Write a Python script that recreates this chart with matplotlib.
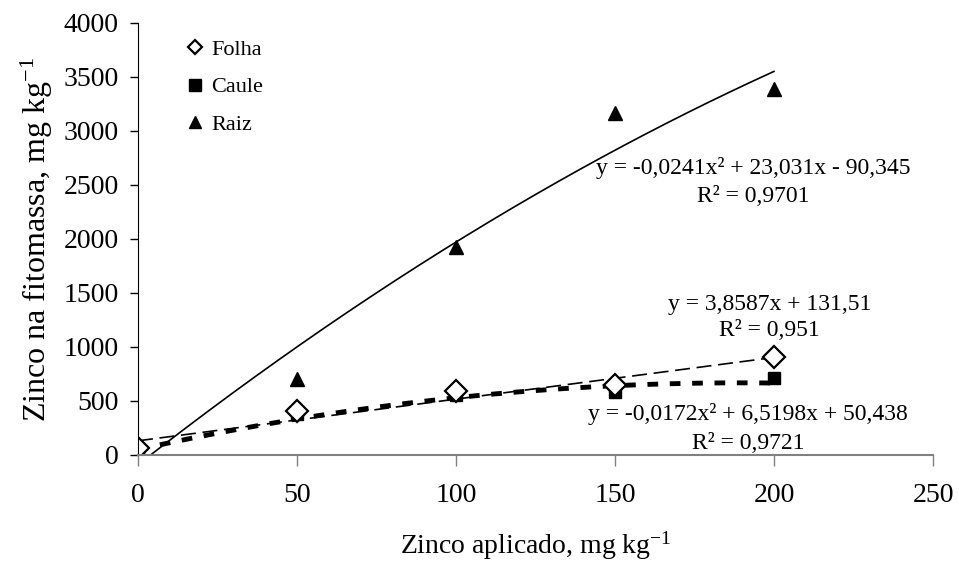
import matplotlib.pyplot as plt
import numpy as np

plt.rcParams['font.family'] = ['Liberation Serif', 'DejaVu Serif']
plt.rcParams['mathtext.fontset'] = 'custom'
plt.rcParams['mathtext.rm'] = 'Liberation Serif'
plt.rcParams['mathtext.it'] = 'Liberation Serif:italic'

# dados
doses = [0, 50, 100, 150, 200]
folha = [65, 407, 590, 648, 907]
caule = [30, 380, 555, 583, 713]
raiz = [20, 700, 1930, 3167, 3389]

# coeficientes das regressoes (a, b, c) -> a x^2 + b x + c
coef_folha = (0.0, 3.8587, 131.51)
coef_caule = (-0.0172, 6.5198, 50.438)
coef_raiz = (-0.0241, 23.031, -90.345)

fig = plt.figure(figsize=(9.59, 5.66), dpi=100)
ax = fig.add_axes([138/959, 1 - 455/566, (933-138)/959, (455-23)/566])

xx = np.linspace(0, 200, 300)
def curva(c):
    return c[0]*xx**2 + c[1]*xx + c[2]

ax.plot(xx, curva(coef_raiz), color='black', lw=1.2)
ax.plot(xx, curva(coef_folha), color='black', lw=1.2, dashes=(9, 4))
ax.plot(xx, curva(coef_caule), color='black', lw=3.5, dashes=(2.2, 2.4))

ax.plot(doses, raiz, '^', color='black', ms=10, ls='none', label='Raiz')
ax.plot(doses, caule, 's', color='black', ms=8, ls='none', label='Caule')
ax.plot(doses, folha, 'D', mfc='white', mec='black', mew=1.6, ms=11, ls='none', label='Folha')

h, l = ax.get_legend_handles_labels()
leg = ax.legend(h[::-1], l[::-1], loc='upper left', bbox_to_anchor=(0.033, 1.008), frameon=False,
                fontsize=16, labelspacing=0.75, handletextpad=0.2, handlelength=1.0)
for hd, ms in zip(leg.legend_handles, [7.5, 8, 9]):
    hd.set_markersize(ms)

ax.set_xlim(0, 250)
ax.set_ylim(0, 4000)
ax.set_xticks(range(0, 251, 50))
ax.set_yticks(range(0, 4001, 500))
ax.spines['top'].set_visible(False)
ax.spines['right'].set_visible(False)
ax.spines['bottom'].set_color('#808080')
ax.spines['bottom'].set_linewidth(1.5)
ax.tick_params(axis='x', direction='out', length=8, width=1, colors='#808080',
               labelcolor='black', labelsize=20, pad=12)
ax.tick_params(axis='y', direction='out', length=6, width=1, labelsize=20, pad=8)

ax.set_xlabel(r'Zinco aplicado, mg kg$^{\mathrm{-1}}$', fontsize=20, labelpad=16)
ax.set_ylabel(r'Zinco na fitomassa, mg kg$^{\mathrm{-1}}$', fontsize=23, labelpad=6)

fs = 17
ax.text(193.4, 2657, 'y = -0,0241x² + 23,031x - 90,345', fontsize=fs, ha='center', va='center')
ax.text(193.4, 2389, 'R² = 0,9701', fontsize=fs, ha='center', va='center')
ax.text(198.7, 1389, 'y = 3,8587x + 131,51', fontsize=fs, ha='center', va='center')
ax.text(198.7, 1157, 'R² = 0,951', fontsize=fs, ha='center', va='center')
ax.text(191.8, 380, 'y = -0,0172x² + 6,5198x + 50,438', fontsize=fs, ha='center', va='center')
ax.text(191.8, 111, 'R² = 0,9721', fontsize=fs, ha='center', va='center')

plt.savefig('out.png', dpi=100)
